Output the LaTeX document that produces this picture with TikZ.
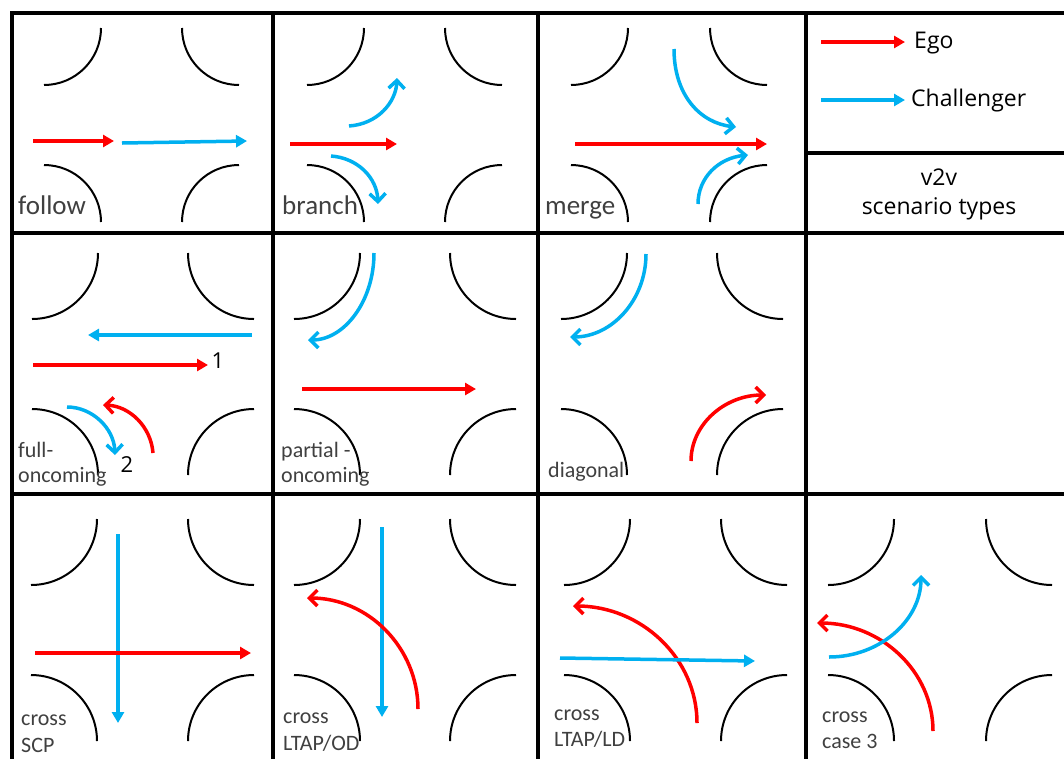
\documentclass[tikz,border=0pt]{standalone}
\usepackage{fontspec}
\setmainfont{Carlito}
\newfontfamily\legfont{Open Sans}
\usetikzlibrary{arrows.meta}
\definecolor{cblue}{RGB}{0,176,240}
\definecolor{cred}{RGB}{255,0,0}
\definecolor{labgray}{RGB}{64,64,64}
\tikzset{
  grid/.style={line width=3.5pt, black, line cap=rect},
  road/.style={line width=2pt, black},
  ego/.style={line width=3.5pt, cred, -{Triangle[length=11pt,width=12pt]}},
  chal/.style={line width=3.5pt, cblue, -{Triangle[length=11pt,width=12pt]}},
  egoc/.style={line width=3.5pt, cred, -{Straight Barb[length=8pt,width=16pt]}},
  chalc/.style={line width=3.5pt, cblue, -{Straight Barb[length=8pt,width=16pt]}},
  bigLab/.style={anchor=base west, inner sep=0pt, text=labgray, font=\fontsize{27}{30}\selectfont},
  smallLab/.style={anchor=base west, inner sep=0pt, text=labgray, font=\fontsize{22}{26}\selectfont},
  numLab/.style={inner sep=0pt, text=black, font=\legfont\fontsize{22}{26}\selectfont},
  legLab/.style={inner sep=0pt, text=black, font=\legfont\fontsize{23}{26}\selectfont},
}
\newcommand\crossroads[5]{%
  \draw[road] ({#1+#5},#3) arc[start angle=0,end angle=90,radius=#5];
  \draw[road] ({#2-#5},#3) arc[start angle=180,end angle=90,radius=#5];
  \draw[road] (#1,{#4-#5}) arc[start angle=-90,end angle=0,radius=#5];
  \draw[road] (#2,{#4-#5}) arc[start angle=270,end angle=180,radius=#5];
}
\begin{document}
\begin{tikzpicture}[x=1pt,y=-1pt]
\useasboundingbox (0,0) rectangle (1064,758);
\clip (0,0) rectangle (1064,758);
\fill[white] (0,0) rectangle (1064,758);

% grid
\draw[grid] (12,13) -- (1075,13);
\draw[grid] (12,233) -- (1075,233);
\draw[grid] (12,494) -- (1075,494);
\draw[grid] (806,153) -- (1075,153);
\draw[grid] (12,13) -- (12,770);
\draw[grid] (273,13) -- (273,770);
\draw[grid] (538,13) -- (538,770);
\draw[grid] (806,13) -- (806,770);

% road corners
\crossroads{44}{239}{28}{222}{57}
\crossroads{307}{502}{28}{222}{57}
\crossroads{571}{767}{28}{222}{57}
\crossroads{32}{254}{253}{475}{66}
\crossroads{294}{516}{253}{475}{66}
\crossroads{561}{783}{253}{475}{66}
\crossroads{31}{254}{519}{741}{66}
\crossroads{294}{516}{519}{741}{66}
\crossroads{564}{787}{519}{741}{66}
\crossroads{828}{1052}{519}{741}{66}

% legend
\coordinate (le1) at (821,42); \coordinate (le2) at (905,42);
\coordinate (lc1) at (821,100); \coordinate (lc2) at (905,100);
\draw[ego] (le1) -- (le2);
\draw[chal] (lc1) -- (lc2);
\node[legLab, anchor=west] (tego) at (914,43) {Ego};
\node[legLab, anchor=west] (tchal) at (911,101) {Challenger};
\node[legLab] (tv2v) at (939,177) {v2v};
\node[legLab] (tscen) at (939,209) {scenario types};

% follow
\draw[ego] (33,141) -- (114,141);
\draw[chal] (122,143) -- (247,141);
\node[bigLab] (lfollow) at (18,214) {follow};

% branch
\draw[ego] (290,144) -- (397,144);
\draw[chalc] (349,126) .. controls (378,124) and (396,102) .. (397,78);
\draw[chalc] (331,156) .. controls (358,158) and (377,178) .. (378,204);
\node[bigLab] (lbranch) at (282,214) {branch};

% merge
\draw[ego] (575,144) -- (767,144);
\draw[chalc] (674,49) .. controls (674,95) and (700,123) .. (736,127);
\draw[chalc] (698,204) .. controls (698,178) and (718,158) .. (748,155);
\node[bigLab] (lmerge) at (545,214) {merge};

% full-oncoming
\draw[chal] (252,335) -- (88,335);
\draw[ego] (33,365) -- (208,365);
\node[numLab] (n1) at (218,361) {1};
\draw[egoc] (153,453) .. controls (151,427) and (130,406) .. (103,405);
\draw[chalc] (67,407) .. controls (92,407) and (114,428) .. (115,455);
\node[numLab] (n2) at (127,465) {2};
\node[smallLab] (lfull1) at (18,457) {full-};
\node[smallLab] (lfull2) at (18,482) {oncoming};

% partial-oncoming
\draw[chalc] (374,253) arc[start angle=0,end angle=90,x radius=66,y radius=87];
\draw[ego] (302,389) -- (476,389);
\node[smallLab] (lpart1) at (281,457) {partial -};
\node[smallLab] (lpart2) at (281,482) {oncoming};

% diagonal
\draw[chalc] (646,254) arc[start angle=0,end angle=90,x radius=76,y radius=83];
\draw[egoc] (691,461) arc[start angle=180,end angle=270,x radius=75,y radius=66];
\node[smallLab] (ldiag) at (548,477) {diagonal};

% cross SCP
\draw[chal] (118,534) -- (118,723);
\draw[ego] (35,653) -- (251,653);
\node[smallLab] (lscp1) at (21,725) {cross};
\node[smallLab] (lscp2) at (21,752) {SCP};

% cross LTAP/OD
\draw[chal] (382,527) -- (382,717);
\draw[egoc] (418,709) arc[start angle=0,end angle=-90,radius=111];
\node[smallLab] (lod1) at (283,723) {cross};
\node[smallLab] (lod2) at (283,750) {LTAP/OD};

% cross LTAP/LD
\draw[egoc] (697,723) arc[start angle=0,end angle=-90,x radius=124,y radius=117];
\draw[chal] (560,658) -- (755,661);
\node[smallLab] (lld1) at (554,720) {cross};
\node[smallLab] (lld2) at (554,746) {LTAP/LD};

% cross case 3
\draw[egoc] (933,731) arc[start angle=0,end angle=-90,x radius=116,y radius=108];
\draw[chalc] (829,657) arc[start angle=90,end angle=0,x radius=92,y radius=82];
\node[smallLab] (lc31) at (822,722) {cross};
\node[smallLab] (lc32) at (822,748) {case 3};
\end{tikzpicture}
\end{document}
